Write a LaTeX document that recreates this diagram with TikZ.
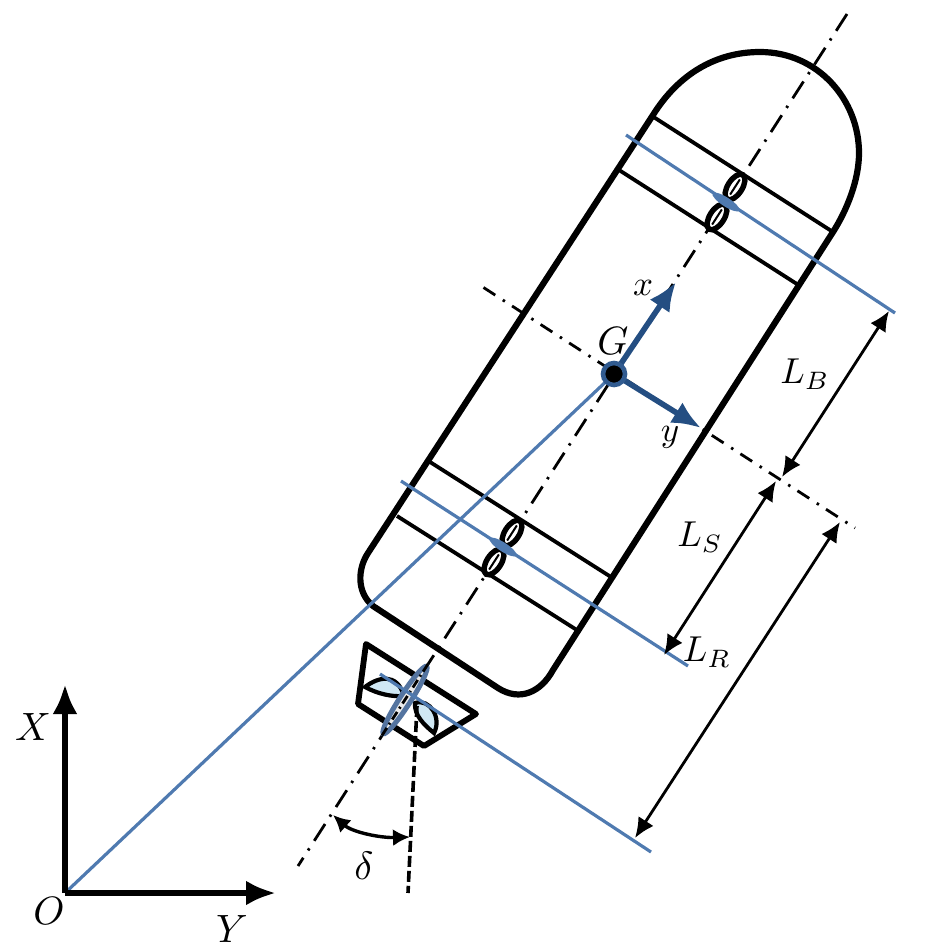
\documentclass[tikz,border=0pt]{standalone}
\usetikzlibrary{arrows.meta}
\definecolor{bluel}{RGB}{79,122,176}
\definecolor{blued}{RGB}{36,78,130}
\definecolor{leaf}{RGB}{208,232,244}
\definecolor{plate}{RGB}{84,116,160}
\tikzset{
 hull/.style={draw=black,line width=6.2pt,line join=round},
 band/.style={draw=black,line width=3.8pt},
 refl/.style={draw=bluel,line width=3.2pt},
 chain/.style={draw=black,line width=2.8pt,dash pattern=on 20pt off 9pt on 2.4pt off 8.75pt},
 chainp/.style={draw=black,line width=2.8pt,dash pattern=on 14pt off 9pt on 2.5pt off 8.5pt},
 dim/.style={draw=black,line width=2.8pt,{Latex[length=20pt,width=18pt]}-{Latex[length=20pt,width=18pt]}},
 axisb/.style={draw=black,line width=6pt,-{Latex[length=30pt,width=25pt]}},
 body/.style={draw=blued,line width=5.6pt,-{Latex[length=29pt,width=24pt]}},
 lab/.style={inner sep=0pt,scale=3.6},
 labbig/.style={inner sep=0pt,scale=3.95},
 labsmall/.style={inner sep=0pt,scale=3.5},
}
\begin{document}
\begin{tikzpicture}[x=1pt,y=-1pt]
\useasboundingbox (0,0) rectangle (928,950);
% named points
\coordinate (O) at (65,893);
\coordinate (XT) at (65,684);
\coordinate (YT) at (276,893);
\coordinate (G) at (614,374);
\coordinate (axA) at (298,866);
\coordinate (axB) at (847,14);
\coordinate (pA) at (483.5,287.5);
\coordinate (pB) at (855,528);
% centre lines
\path[chain] (axB) -- (axA);
\path[chainp] (pA) -- (pB);
% rudder housing
\draw[draw=black,line width=5.8pt,line join=round] (366,644) -- (476,714) -- (424,746) -- (358,704) -- cycle;
% rudder blades
\draw[draw=black,line width=4.2pt,fill=leaf] (365,687) .. controls (378,677) and (397,672) .. (404,696) .. controls (392,697) and (378,694) .. cycle;
\draw[draw=black,line width=4.2pt,fill=leaf] (415,703) .. controls (430,698) and (442,718) .. (434,733) .. controls (424,725) and (414,715) .. cycle;
% hull
\draw[hull] (653,115) .. controls (678,75) and (715,52) .. (760,52)
 .. controls (818,52) and (859,100) .. (859,153)
 .. controls (859,180) and (847,210) .. (833,232)
 -- (553,670) .. controls (541,692) and (520,702) .. (498,688)
 -- (373,606) .. controls (356,592) and (358,568) .. (368,553) -- cycle;
\draw[band] (652,116) -- (833,232);
\draw[band] (619,170) -- (800,286);
\draw[band] (430,462) -- (611,577);
\draw[band] (397,516) -- (580,632);
% propellers
\foreach \cx/\cy in {735/187,717/217,512/533,494/562}{
 \draw[draw=black,line width=5.4pt,fill=white,rotate around={57.2:(\cx,\cy)}] (\cx,\cy) ellipse [x radius=14.5pt,y radius=7.2pt];
 \draw[draw=black,line width=2pt,rotate around={57.2:(\cx,\cy)}] (\cx-9,\cy) -- (\cx+9,\cy);
}
% blue reference lines
\draw[refl] (626,135) -- (895,313);
\draw[refl] (401,481) -- (688,666);
\draw[refl] (O) -- (G);
\fill[bluel,rotate around={-33:(726,202)}] (726,202) ellipse [x radius=16pt,y radius=4.5pt];
\fill[bluel,rotate around={-33:(503,547)}] (503,547) ellipse [x radius=16pt,y radius=4.5pt];
% rudder plate
\draw[draw=plate,line width=5pt,fill=black!8,rotate around={57.2:(405,700)}] (405,700) ellipse [x radius=40pt,y radius=5.5pt];
\draw[draw=black,line width=2.8pt,dash pattern=on 9pt off 4pt on 2pt off 4pt] (428,664) -- (381,737);
\draw[refl] (380,674) -- (651,852);
% rudder axis
\coordinate (rA) at (417,706);
\coordinate (rB) at (408,893);
\draw[draw=black,line width=3.6pt,dash pattern=on 11pt off 4pt] (rA) -- (rB);
% coordinate frame
\draw[axisb] (O) -- (XT);
\draw[axisb] (O) -- (YT);
% body axes
\coordinate (xT) at (676,282);
\coordinate (yT) at (701,428);
\draw[body] (G) -- (xT);
\draw[body] (G) -- (yT);
\node[circle,fill=black,draw=blued!70!bluel,line width=4.6pt,minimum size=22pt,inner sep=0pt] (Gn) at (G) {};
% dimensions
\coordinate (d1) at (889,311);
\coordinate (d2) at (782,477);
\coordinate (d3) at (776,481);
\coordinate (d4) at (664,655);
\coordinate (d5) at (840,522);
\coordinate (d6) at (635,838);
\draw[dim] (d1) -- (d2);
\draw[dim] (d3) -- (d4);
\draw[dim] (d5) -- (d6);
% delta arc
\coordinate (a1) at (333,815);
\coordinate (a2) at (410,837);
\draw[draw=black,line width=3.4pt,{Latex[length=17pt,width=17pt]}-{Latex[length=17pt,width=17pt]}] (a1) .. controls (352,832) and (380,838) .. (a2);
% labels
\node[labbig] (lX) at (33,727) {$X$};
\node[labbig] (lY) at (232,929) {$Y$};
\node[labbig] (lO) at (49,911) {$O$};
\node[labsmall] (lx) at (643,288) {$x$};
\node[labsmall] (ly) at (670,437) {$y$};
\node[labbig] (lG) at (613,341) {$G$};
\node[lab] (lLB) at (805,374) {$L_B$};
\node[lab] (lLS) at (700,537) {$L_S$};
\node[lab] (lLR) at (707,652) {$L_R$};
\node[labbig] (ld) at (364,866) {$\delta$};
\end{tikzpicture}
\end{document}
